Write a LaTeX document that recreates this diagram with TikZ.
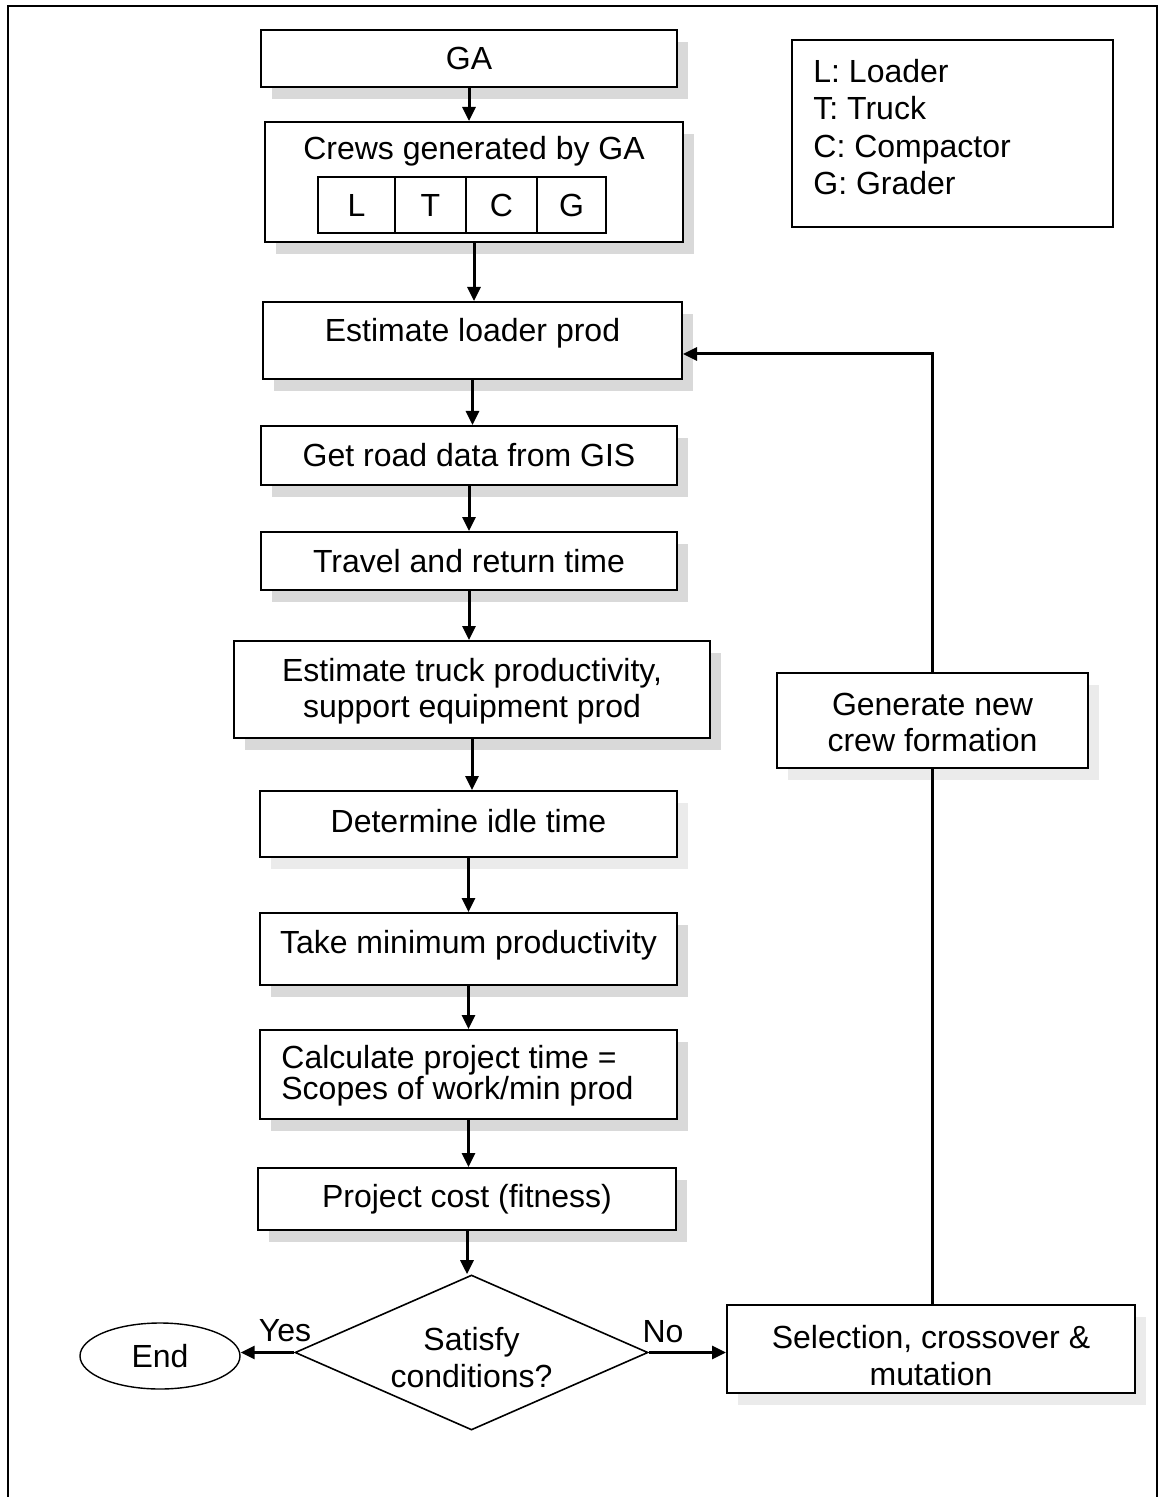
\documentclass[tikz,border=0pt]{standalone}
\usepackage{fontspec}
\setmainfont{Liberation Sans}
\usetikzlibrary{arrows.meta,shapes.geometric,shadows}
\begin{document}
\begin{tikzpicture}[x=0.5pt,y=-0.5pt,
  txt/.style={font=\fontsize{16}{18}\selectfont},
  box/.style={draw, line width=1pt, fill=white, inner sep=0pt, align=center, txt},
  shade/.style={drop shadow={shadow xshift=5.5pt, shadow yshift=-6pt, fill=gray!30, opacity=1}},
  lightshade/.style={drop shadow={shadow xshift=5.5pt, shadow yshift=-6pt, fill=gray!16, opacity=1}},
  cell/.style={draw, line width=0.8pt, inner sep=0pt, minimum height=28pt, txt},
  arr/.style={line width=1.5pt, -{Triangle[length=7pt,width=6.5pt]}},
  link/.style={line width=1.5pt}]

\useasboundingbox (0,0) rectangle (1159,1497);
% outer frame (open at the bottom)
\draw[line width=1pt] (8,1497) -- (8,6) -- (1157,6) -- (1157,1497);

% main column
\node[box, shade, minimum width=208pt, minimum height=28.5pt] (ga) at (469,58.5) {GA};

\node[box, shade, minimum width=209pt, minimum height=60pt] (crews) at (474,182) {};
\node[txt, inner sep=0pt] (crewstxt) at (474,151) {Crews generated by GA};
\node[cell, minimum width=38.5pt] (cl) at (356.5,205) {L};
\node[cell, minimum width=35.5pt] (ct) at (430.5,205) {T};
\node[cell, minimum width=35.5pt] (cc) at (501.5,205) {C};
\node[cell, minimum width=34.5pt] (cg) at (571.5,205) {G};

\node[box, shade, minimum width=209.5pt, minimum height=38.5pt] (loader) at (472.5,340.5) {};
\node[txt, inner sep=0pt] (loadertxt) at (472.5,333) {Estimate loader prod};

\node[box, shade, minimum width=208pt, minimum height=29.5pt] (road) at (469,455.5) {Get road data from GIS};
\node[box, shade, minimum width=208pt, minimum height=29pt] (travel) at (469,561) {Travel and return time};
\node[box, shade, minimum width=238pt, minimum height=48.5pt] (truck) at (472,689.5) {};
\node[txt, inner sep=0pt, align=center] (trucktxt) at (472,691) {Estimate truck productivity,\\support equipment prod};
\node[box, lightshade, minimum width=208.5pt, minimum height=33pt] (idle) at (468.5,824) {};
\node[txt, inner sep=0pt] (idletxt) at (468.5,821) {Determine idle time};
\node[box, shade, minimum width=208.5pt, minimum height=36pt] (take) at (468.5,949) {};
\node[txt, inner sep=0pt] (taketxt) at (468.5,945) {Take minimum productivity};
\node[box, shade, minimum width=208.5pt, minimum height=44.5pt] (calc) at (468.5,1074.5) {};
\node[inner sep=0pt, anchor=west, align=left, font=\fontsize{16}{15.5}\selectfont] (calctxt) at (281,1076) {Calculate project time =\\Scopes of work/min prod};
\node[box, shade, minimum width=209pt, minimum height=31pt] (cost) at (467,1199) {Project cost (fitness)};

\node[diamond, draw, line width=0.8pt, fill=white, inner sep=0pt, shape aspect=2.28,
      minimum width=176.5pt, minimum height=77.5pt] (cond) at (471.5,1352.5) {};
\node[inner sep=0pt, align=center, font=\fontsize{16}{18.5}\selectfont] (condtxt) at (471.5,1358) {Satisfy\\conditions?};

\node[ellipse, draw, line width=0.7pt, inner sep=0pt, minimum width=80pt, minimum height=33pt, txt] (end) at (160,1356) {End};

% right column
\node[box, lightshade, minimum width=204pt, minimum height=44pt] (sel) at (931,1349) {};
\node[inner sep=0pt, align=center, font=\fontsize{16}{18.5}\selectfont] (seltxt) at (931,1356) {Selection, crossover \&\\mutation};
\node[box, lightshade, minimum width=155.5pt, minimum height=47.5pt] (gen) at (932.5,720.5) {};
\node[txt, inner sep=0pt, align=center] (gentxt) at (932.5,722) {Generate new\\crew formation};

% legend
\node[draw, line width=0.8pt, inner sep=0pt, minimum width=160.5pt, minimum height=93.5pt] (legend) at (952.5,133.5) {};
\node[inner sep=0pt, anchor=west, align=left, font=\fontsize{16}{18.7}\selectfont] (legtxt) at (813,127) {L: Loader\\T: Truck\\C: Compactor\\G: Grader};

% connectors
\draw[arr] (ga.south) -- (ga.south |- crews.north);
\draw[arr] (crews.south) -- (crews.south |- loader.north);
\draw[arr] (loader.south) -- (loader.south |- road.north);
\draw[arr] (road.south) -- (road.south |- travel.north);
\draw[arr] (travel.south) -- (travel.south |- truck.north);
\draw[arr] (truck.south) -- (truck.south |- idle.north);
\draw[arr] (idle.south) -- (idle.south |- take.north);
\draw[arr] (take.south) -- (take.south |- calc.north);
\draw[arr] (calc.south) -- (calc.south |- cost.north);
\draw[arr] (cost.south) -- (cost.south |- cond.north);

\draw[arr] (cond.west) -- (cond.west -| end.east);
\draw[arr] (cond.east) -- (sel.west |- cond.east);
\node[txt, inner sep=0pt] (yes) at (285,1331) {Yes};
\node[txt, inner sep=0pt] (no) at (663,1332) {No};

\draw[link] (sel.north -| gen.south) -- (gen.south);
\draw[arr] (gen.north) |- ([yshift=-6.75pt]loader.east);

\end{tikzpicture}
\end{document}
